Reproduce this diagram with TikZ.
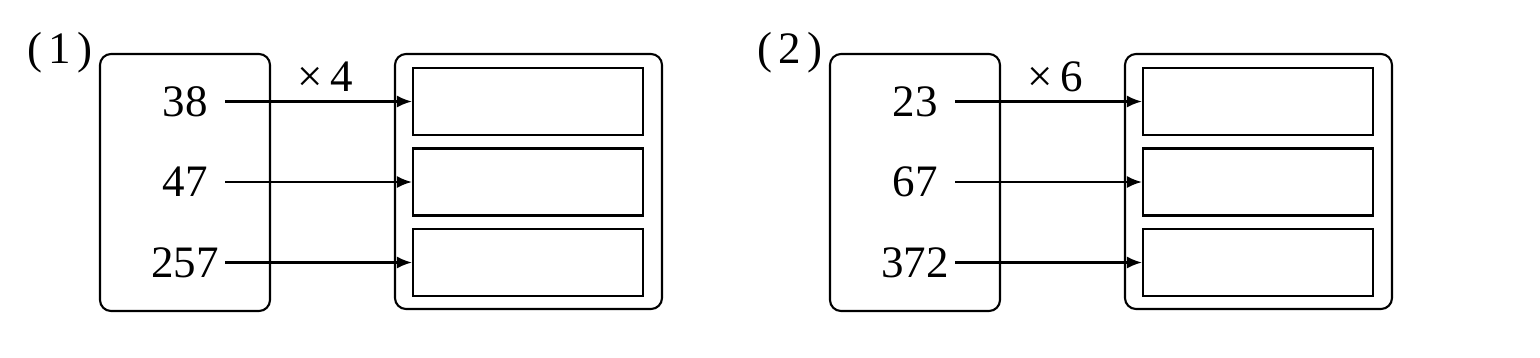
\documentclass[tikz,border=0pt]{standalone}
\usepackage{fontspec}
\setmainfont{Liberation Serif}
\usetikzlibrary{arrows.meta}
\tikzset{
  every picture/.style={>={Latex[length=1.5mm,width=1.2mm]}, line width=0.6pt,
    font=\fontsize{12.8}{15}\selectfont},
  srcbox/.style={draw, rounded corners=1.1mm, minimum width=1.7cm,
    minimum height=2.57cm, inner sep=0pt},
  outbox/.style={draw, rounded corners=1.1mm, minimum width=2.67cm,
    minimum height=2.55cm, inner sep=0pt},
  slot/.style={draw, minimum width=2.3cm, minimum height=0.67cm, inner sep=0pt},
  num/.style={inner sep=0pt},
}
\def\ya{2.555}
\def\yb{1.75}
\def\yc{0.945}
\newcommand{\panel}[7]{% shift, prefix, tag, factor, three numbers
  \begin{scope}[xshift=#1cm]
    \node (#2-tag) at (0.60,3.04) {(\hspace{0.15em}#3\hspace{0.15em})};
    \node[srcbox] (#2-src) at (1.85,1.745) {};
    \node[outbox] (#2-out) at (5.285,1.755) {};
    \foreach \n/\y [count=\i] in {#5/\ya,#6/\yb,#7/\yc} {
      \node[num] (#2-n\i) at (1.85,\y) {\n};
      \node[slot] (#2-s\i) at (5.28,\y) {};
      \coordinate (#2-a\i) at (2.25,\y);
      \draw[->] (#2-a\i) -- (#2-s\i.west);
    }
    \node (#2-op) at (3.25,2.80) {×\,#4};
  \end{scope}
}
\newcommand{\bbox}{\path[use as bounding box] (0,0) rectangle (15.4,3.57);}

\begin{document}
\begin{tikzpicture}
  \bbox
  \panel{0}{p1}{1}{4}{38}{47}{257}
  \panel{7.3}{p2}{2}{6}{23}{67}{372}
\end{tikzpicture}
\end{document}
